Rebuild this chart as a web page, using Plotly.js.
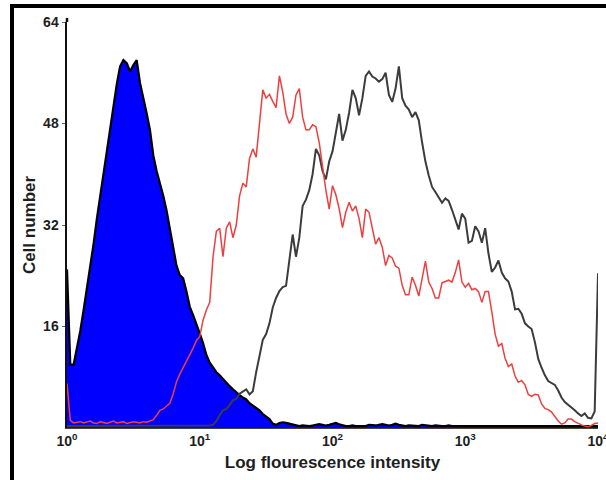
<!DOCTYPE html>
<html>
<head>
<meta charset="utf-8">
<script src="https://cdn.plot.ly/plotly-3.0.1.min.js"></script>
<style>
  html, body { margin: 0; padding: 0; background: #fff; }
  #wrap { position: relative; width: 606px; height: 480px; overflow: hidden; }
  #chart { position: absolute; left: 0; top: 0; width: 606px; height: 480px; }
  .bar { position: absolute; background: #000; z-index: 10; }
</style>
</head>
<body>
<div id="wrap">
  <div id="chart"></div>
  <div class="bar" style="left:10px; top:4px; width:596px; height:4px;"></div>
  <div class="bar" style="left:10px; top:4px; width:4px; height:476px;"></div>
</div>
<script>
// Channel intensities (log-spaced bins, 40 per decade)
var intensity = [
  1, 1.059, 1.122, 1.189, 1.259, 1.334, 1.413, 1.496, 1.585, 1.679,
  1.778, 1.884, 1.995, 2.113, 2.239, 2.371, 2.512, 2.661, 2.818, 2.985,
  3.162, 3.350, 3.548, 3.758, 3.981, 4.217, 4.467, 4.732, 5.012, 5.309,
  5.623, 5.957, 6.310, 6.683, 7.079, 7.499, 7.943, 8.414, 8.913, 9.441,
  10, 10.59, 11.22, 11.89, 12.59, 13.34, 14.13, 14.96, 15.85, 16.79,
  17.78, 18.84, 19.95, 21.13, 22.39, 23.71, 25.12, 26.61, 28.18, 29.85,
  31.62, 33.50, 35.48, 37.58, 39.81, 42.17, 44.67, 47.32, 50.12, 53.09,
  56.23, 59.57, 63.10, 66.83, 70.79, 74.99, 79.43, 84.14, 89.13, 94.41,
  100, 105.9, 112.2, 118.9, 125.9, 133.4, 141.3, 149.6, 158.5, 167.9,
  177.8, 188.4, 199.5, 211.3, 223.9, 237.1, 251.2, 266.1, 281.8, 298.5,
  316.2, 335.0, 354.8, 375.8, 398.1, 421.7, 446.7, 473.2, 501.2, 530.9,
  562.3, 595.7, 631.0, 668.3, 707.9, 749.9, 794.3, 841.4, 891.3, 944.1,
  1000, 1059, 1122, 1189, 1259, 1334, 1413, 1496, 1585, 1679,
  1778, 1884, 1995, 2113, 2239, 2371, 2512, 2661, 2818, 2985,
  3162, 3350, 3548, 3758, 3981, 4217, 4467, 4732, 5012, 5309,
  5623, 5957, 6310, 6683, 7079, 7499, 7943, 8414, 8913, 9441,
  10000
];

// Control (filled blue) histogram
var controlCounts = [
  25, 10, 10, 12.5, 15.3, 18.6, 22, 25.5, 29, 33,
  36.6, 40.2, 43.9, 47.5, 51.2, 54.2, 57, 58, 57.5, 56.2,
  57.2, 58, 54.4, 52.2, 49.6, 47, 43, 40.5, 38.6, 36.6,
  34.3, 31.5, 28.4, 25.6, 24.1, 23.6, 21.5, 19.1, 17.8, 16.2,
  14.9, 13.4, 11.5, 10.3, 9.6, 8.8, 8.3, 7.7, 7.1, 6.6,
  6.1, 5.6, 5.2, 4.8, 4.5, 3.9, 3.5, 3.2, 2.8, 2.2,
  1.8, 1.4, 0.7, 0.5, 0.8, 0.9, 0.8, 0.7, 0.5, 0.4,
  0.3, 0.4, 0.3, 0.3, 0.4, 0.5, 0.6, 0.5, 0.4, 0.5,
  0.7, 0.8, 0.6, 0.4, 0.3, 0.3, 0.4, 0.3, 0.3, 0.4,
  0.3, 0.5, 0.4, 0.4, 0.5, 0.6, 0.5, 0.4, 0.5, 0.7,
  0.5, 0.4, 0.3, 0.4, 0.4, 0.3, 0.3, 0.5, 0.4, 0.3,
  0.3, 0.4, 0.3, 0.3, 0.3, 0.4, 0.3, 0.3, 0.4, 0.3,
  0.3, 0.3, 0.4, 0.3, 0.3, 0.3, 0.3, 0.4, 0.3, 0.3,
  0.3, 0.3, 0.3, 0.4, 0.3, 0.3, 0.3, 0.3, 0.3, 0.3,
  0.3, 0.4, 0.3, 0.3, 0.3, 0.3, 0.3, 0.3, 0.3, 0.3,
  0.3, 0.3, 0.3, 0.3, 0.3, 0.3, 0.3, 0.3, 0.3, 0.3,
  0.3
];

// Red histogram
var redCounts = [
  7, 1.2, 0.8, 0.9, 1.0, 0.8, 0.9, 1.1, 0.8, 0.7,
  1.0, 0.9, 0.7, 0.9, 1.1, 0.8, 0.9, 1.0, 0.7, 0.8,
  1.0, 0.9, 0.8, 1.0, 0.9, 1.1, 1.3, 2.0, 2.8, 3.0,
  3.5, 3.9, 5.4, 7.3, 8.5, 9.5, 10.6, 11.7, 12.6, 13.8,
  14.4, 17, 18.6, 19.8, 27, 31, 31.5, 27, 31.5, 32.5,
  30, 32, 36.6, 38.6, 38, 42.5, 44, 42.7, 48, 53.3,
  52, 52.6, 51.5, 50.5, 55.5, 53, 49.5, 48, 49, 52.5,
  53.5, 49, 47, 47, 47.8, 47.5, 45, 41, 37.5, 34.5,
  38.2, 36.8, 34.6, 31.6, 34, 35.6, 34.2, 35, 33, 30,
  34.5, 34, 31.5, 29, 30, 28.5, 25.6, 27.2, 26.8, 25.5,
  25.2, 22.5, 21, 21, 23.8, 22.5, 20.8, 23.5, 26.3, 23,
  22, 20.5, 20.5, 22.9, 23.1, 23.3, 23, 24.5, 26.5, 23,
  22.2, 22.8, 21.8, 22, 21.5, 19.8, 21.5, 21.5, 18.3, 14.8,
  12.9, 13.3, 11, 9.7, 10.1, 8.2, 7.2, 7.5, 6.8, 5.3,
  5.0, 5.3, 5.2, 3.8, 3.1, 2.9, 2.5, 1.7, 1.1, 0.6,
  0.8, 1.4, 1.4, 1.0, 0.7, 0.5, 0.3, 0.2, 0.4, 0.7,
  0.8
];

// Black (grey) histogram
var blackCounts = [
  0.3, 0.3, 0.3, 0.3, 0.3, 0.3, 0.3, 0.3, 0.3, 0.3,
  0.3, 0.3, 0.3, 0.3, 0.3, 0.3, 0.3, 0.3, 0.3, 0.3,
  0.3, 0.3, 0.3, 0.3, 0.3, 0.3, 0.3, 0.3, 0.3, 0.3,
  0.3, 0.3, 0.3, 0.3, 0.3, 0.3, 0.3, 0.3, 0.3, 0.3,
  0.3, 0.3, 0.3, 0.4, 0.5, 1.1, 2.0, 2.8, 3.0, 3.6,
  4.4, 4.6, 5.4, 5.7, 6.1, 5.3, 5.8, 8.8, 11.3, 13.9,
  14.8, 16.5, 19, 20.5, 21.6, 22.2, 22.4, 26.5, 30.5, 27,
  30, 35, 36, 37.5, 40, 44, 43, 40.5, 39.2, 42,
  43.6, 46.5, 49.5, 45.3, 47, 49.7, 53.3, 52, 49.3, 52,
  55.5, 56.2, 55.4, 55.1, 54.6, 55, 56, 52.5, 51.4, 53.5,
  57, 52, 50.8, 50.2, 49, 49.8, 48.5, 45, 42, 39.8,
  38, 37.2, 36.3, 35.5, 36.2, 35.8, 34.4, 32.8, 31.3, 33.8,
  33, 29.2, 29.5, 31.8, 31, 29.2, 31.5, 27.5, 24.6, 25.3,
  26.4, 24.5, 23.6, 23.1, 21.5, 18.7, 18.8, 18, 16.5, 16,
  15.6, 13.5, 10.9, 9.5, 8.3, 7.4, 7.1, 6.8, 5.9, 4.8,
  4.1, 3.7, 3.2, 2.8, 2.3, 1.9, 2.3, 1.6, 1.5, 2.6,
  24.4
];

var xTickVals = [1, 10, 100, 1000, 10000];
var xTickText = ['10<sup>0</sup>', '10<sup>1</sup>', '10<sup>2</sup>', '10<sup>3</sup>', '10<sup>4</sup>'];
var yTickVals = [16, 32, 48, 64];
var yTickText = ['16', '32', '48', '64'];

var traces = [
  {
    x: intensity, y: controlCounts, type: 'scatter', mode: 'lines',
    fill: 'tozeroy', fillcolor: 'rgb(0,0,255)',
    line: {color: '#000000', width: 2.2},
    hoverinfo: 'skip'
  },
  {
    x: intensity, y: blackCounts, type: 'scatter', mode: 'lines',
    line: {color: '#3c3c3c', width: 2},
    hoverinfo: 'skip'
  },
  {
    x: intensity, y: redCounts, type: 'scatter', mode: 'lines',
    line: {color: 'rgb(236,64,64)', width: 1.5},
    hoverinfo: 'skip'
  }
];

var layout = {
  width: 606, height: 480,
  margin: {l: 67, r: 8, t: 22, b: 52, pad: 0},
  paper_bgcolor: '#ffffff', plot_bgcolor: '#ffffff',
  showlegend: false,
  font: {family: 'Liberation Sans, Arial, sans-serif', color: '#1e1e1e'},
  xaxis: {
    type: 'log', range: [0, 4],
    tickmode: 'array', tickvals: xTickVals, ticktext: xTickText,
    ticklabeloverflow: 'allow',
    showgrid: false, zeroline: false,
    showline: true, linecolor: '#444444', linewidth: 1,
    ticks: '', tickfont: {size: 14, color: '#1e1e1e', weight: 'bold'},
    title: {text: 'Log flourescence intensity', font: {size: 17, color: '#1e1e1e', weight: 'bold'}, standoff: 8}
  },
  yaxis: {
    range: [0, 64],
    tickmode: 'array', tickvals: yTickVals, ticktext: yTickText,
    showgrid: false, zeroline: false,
    showline: true, linecolor: '#111111', linewidth: 2.5,
    ticks: 'outside', ticklen: 3, tickwidth: 1, tickcolor: '#666666',
    tickfont: {size: 14, color: '#1e1e1e', weight: 'bold'},
    title: {text: 'Cell number', font: {size: 17, color: '#1e1e1e', weight: 'bold'}, standoff: 3}
  },
  shapes: [
    {type: 'line', xref: 'paper', yref: 'paper', x0: 0, x1: 0, y0: 1, y1: 1.01,
     line: {color: '#111111', width: 2.5}}
  ]
};

Plotly.newPlot('chart', traces, layout, {displayModeBar: false, staticPlot: true});
</script>
</body>
</html>
